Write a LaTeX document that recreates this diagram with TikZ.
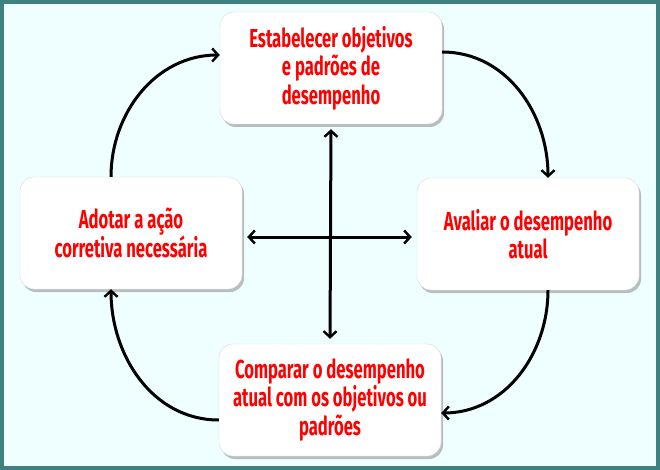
\documentclass[tikz,border=0pt]{standalone}
\usepackage{fontspec}
\newfontfamily\stepfont[FakeStretch=0.64]{Fira Sans}
\usetikzlibrary{arrows.meta,shadows}
\definecolor{paper}{HTML}{EFFEFE}
\definecolor{frame}{HTML}{3F8080}
\tikzset{phase/.style={rectangle,rounded corners=14pt,draw=black!15,fill=white,thin,minimum width=222pt,minimum height=112pt,align=center,text=red,font=\stepfont\bfseries\fontsize{26}{28.5}\selectfont,drop shadow={shadow xshift=2pt,shadow yshift=-3pt,opacity=.5}}}
\tikzset{cycleArrow/.style={-{Straight Barb[length=6pt,width=13pt,line width=2.4pt]},line width=3pt}}
\tikzset{crossArrow/.style={{Straight Barb[length=6pt,width=13pt,line width=2.4pt]}-{Straight Barb[length=6pt,width=13pt,line width=2.4pt]},line width=3pt,shorten <=5pt,shorten >=5pt}}
\begin{document}
\begin{tikzpicture}[x=1pt,y=-1pt]
\useasboundingbox (0,0) rectangle (660,470);
\draw [frame,line width=4pt,fill=paper] (2,2) rectangle (658,468);
\begin{scope}
	\node (goals) [phase] at (331,68) {Estabelecer objetivos\\e padrões de\\desempenho} ;
	\node (assess) [phase] at (528,234) {Avaliar o desempenho\\atual} ;
	\node (compare) [phase] at (330,400) {Comparar o desempenho\\atual com os objetivos ou\\padrões} ;
	\node (correct) [phase] at (131,233) {Adotar a ação\\corretiva necessária} ;
	% ciclo
	\draw [cycleArrow] ([xshift=-20pt]correct.north) to[out=90,in=180] ([yshift=13pt]goals.west) ;
	\draw [cycleArrow] ([yshift=16pt]goals.east) to[out=0,in=90] ([xshift=20pt]assess.north) ;
	\draw [cycleArrow] ([xshift=20pt]assess.south) to[out=-90,in=0] ([yshift=-13pt]compare.east) ;
	\draw [cycleArrow] ([yshift=-20pt]compare.west) to[out=180,in=-90] ([xshift=-20pt]correct.south) ;
	% cruz
	\draw [crossArrow] (goals.south) -- (compare.north) ;
	\draw [crossArrow] ([yshift=-4pt]correct.east) -- ([yshift=-3pt]assess.west) ;
\end{scope}
\end{tikzpicture}
\end{document}
